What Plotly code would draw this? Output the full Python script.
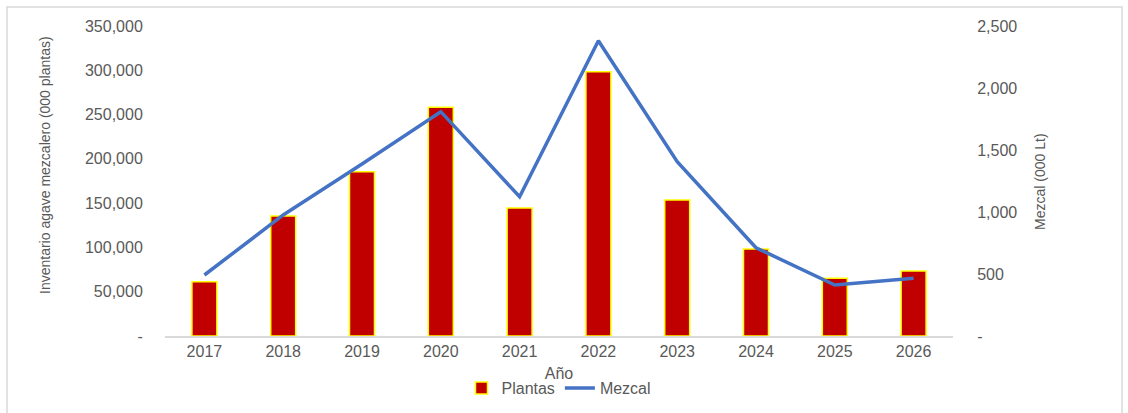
import plotly.graph_objects as go

years = ["2017", "2018", "2019", "2020", "2021", "2022", "2023", "2024", "2025", "2026"]
plantas = [61300, 135500, 185500, 258200, 144500, 298400, 153500, 98200, 65100, 73400]
mezcal = [492, 976, 1387, 1809, 1123, 2381, 1406, 712, 411, 465]

left_ticks = [0, 50000, 100000, 150000, 200000, 250000, 300000, 350000]
left_text = ["-", "50,000", "100,000", "150,000", "200,000", "250,000", "300,000", "350,000"]
right_ticks = [0, 500, 1000, 1500, 2000, 2500]
right_text = ["-", "500", "1,000", "1,500", "2,000", "2,500"]

GRAY = "#595959"
FONT = "Liberation Sans, Arial, sans-serif"
NARROW = "Liberation Sans Narrow, Arial Narrow, Liberation Sans, sans-serif"

fig = go.Figure()
fig.add_trace(go.Bar(
    x=years, y=plantas, name="Plantas",
    marker=dict(color="#C00000", line=dict(color="#FFFF00", width=1.5)),
    yaxis="y",
))
fig.add_trace(go.Scatter(
    x=years, y=mezcal, name="Mezcal", mode="lines",
    line=dict(color="#4472C4", width=3.5),
    yaxis="y2",
))

fig.update_layout(
    width=1128, height=413,
    margin=dict(l=165, r=175, t=26, b=77, autoexpand=False),
    paper_bgcolor="white", plot_bgcolor="white",
    font=dict(family=FONT, size=16, color=GRAY),
    bargap=0.683,
    showlegend=True,
    legend=dict(orientation="h", x=0.5, xanchor="center", y=-0.168, yanchor="middle",
                font=dict(size=16, color=GRAY), itemwidth=30),
    xaxis=dict(
        type="category", showgrid=False, showline=True, linecolor="#D9D9D9", linewidth=1.5,
        ticks="", tickfont=dict(size=16, color=GRAY),
        automargin=False,
        title=dict(text="Año", font=dict(size=16, color=GRAY), standoff=9),
    ),
    yaxis=dict(
        range=[0, 350000], tickvals=left_ticks, ticktext=left_text,
        showgrid=False, zeroline=False, showline=False, automargin=False,
        ticks="outside", ticklen=18, tickcolor="rgba(0,0,0,0)",
        tickfont=dict(size=16, color=GRAY),
    ),
    yaxis2=dict(
        range=[0, 2500], tickvals=right_ticks, ticktext=right_text,
        overlaying="y", side="right", automargin=False,
        showgrid=False, zeroline=False, showline=False,
        ticks="outside", ticklen=20, tickcolor="rgba(0,0,0,0)",
        tickfont=dict(size=16, color=GRAY),
    ),
    annotations=[
        dict(text="Inventario agave mezcalero (000 plantas)", xref="paper", yref="paper",
             x=-0.1523, y=0.5516, textangle=-90, showarrow=False,
             font=dict(family=NARROW, size=14, color=GRAY), xanchor="center", yanchor="middle"),
        dict(text="Mezcal (000 Lt)", xref="paper", yref="paper",
             x=1.1104, y=0.497, textangle=-90, showarrow=False,
             font=dict(family=NARROW, size=14, color=GRAY), xanchor="center", yanchor="middle"),
    ],
    shapes=[
        dict(type="rect", xref="paper", yref="paper", x0=-0.2005, x1=1.2145, y0=-0.3, y1=1.0613,
             line=dict(color="#D9D9D9", width=1.5), fillcolor="rgba(0,0,0,0)", layer="below"),
    ],
)

fig.write_html("out.html")
